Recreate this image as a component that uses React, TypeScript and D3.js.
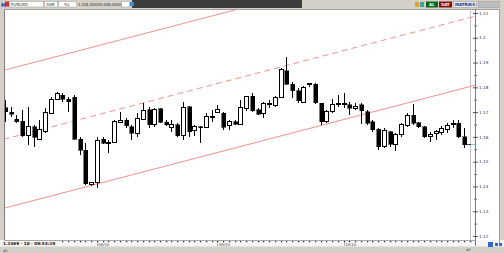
import React from "react";
import * as d3 from "d3";

const opens = [1.1718,1.1699,1.1672,1.1664,1.1604,1.1641,1.1591,1.1621,1.1695,1.1752,
1.1769,1.1752,1.1760,1.1590,1.1547,1.1409,1.1415,1.1591,1.1574,1.1577,
1.1659,1.1668,1.1641,1.1614,1.1672,1.1709,1.1648,1.1713,1.1659,1.1639,
1.1648,1.1604,1.1722,1.1624,1.1641,1.1639,1.1681,1.1698,1.1695,1.1644,
1.1661,1.1652,1.1715,1.1765,1.1709,1.1695,1.1733,1.1725,1.1758,1.1867,
1.1813,1.1786,1.1738,1.1811,1.1813,1.1736,1.1664,1.1702,1.1732,1.1733,
1.1729,1.1715,1.1729,1.1702,1.1661,1.1631,1.1560,1.1621,1.1571,1.1608,
1.1644,1.1688,1.1657,1.1641,1.1601,1.1614,1.1617,1.1631,1.1648,1.1655,
1.1601];
const highs = [1.1749,1.1722,1.1688,1.1709,1.1722,1.1648,1.1668,1.1715,1.1762,1.1780,
1.1776,1.1762,1.1769,1.1601,1.1574,1.1419,1.1598,1.1598,1.1587,1.1668,
1.1702,1.1675,1.1648,1.1695,1.1736,1.1722,1.1715,1.1715,1.1668,1.1668,
1.1655,1.1742,1.1725,1.1648,1.1644,1.1695,1.1709,1.1729,1.1702,1.1668,
1.1668,1.1749,1.1765,1.1776,1.1715,1.1742,1.1749,1.1765,1.1877,1.1924,
1.1823,1.1796,1.1805,1.1819,1.1819,1.1738,1.1709,1.1752,1.1769,1.1778,
1.1742,1.1736,1.1736,1.1709,1.1668,1.1635,1.1635,1.1625,1.1614,1.1655,
1.1695,1.1733,1.1661,1.1644,1.1621,1.1628,1.1644,1.1655,1.1668,1.1668,
1.1635];
const lows = [1.1661,1.1681,1.1655,1.1598,1.1567,1.1558,1.1587,1.1617,1.1692,1.1749,
1.1742,1.1702,1.1587,1.1527,1.1406,1.1402,1.1393,1.1571,1.1534,1.1574,
1.1655,1.1635,1.1587,1.1601,1.1668,1.1635,1.1641,1.1655,1.1644,1.1621,
1.1601,1.1587,1.1598,1.1604,1.1574,1.1635,1.1661,1.1695,1.1628,1.1628,
1.1648,1.1648,1.1706,1.1702,1.1688,1.1675,1.1715,1.1719,1.1756,1.1809,
1.1756,1.1738,1.1736,1.1803,1.1733,1.1648,1.1657,1.1695,1.1722,1.1715,
1.1688,1.1709,1.1652,1.1648,1.1621,1.1547,1.1554,1.1560,1.1544,1.1601,
1.1641,1.1648,1.1635,1.1594,1.1581,1.1587,1.1608,1.1614,1.1635,1.1594,
1.1554];
const closes = [1.1702,1.1691,1.1661,1.1604,1.1641,1.1598,1.1628,1.1698,1.1752,1.1776,
1.1752,1.1742,1.1590,1.1547,1.1410,1.1417,1.1587,1.1574,1.1577,1.1661,
1.1668,1.1644,1.1614,1.1675,1.1706,1.1648,1.1709,1.1659,1.1648,1.1648,
1.1604,1.1719,1.1621,1.1641,1.1637,1.1681,1.1684,1.1709,1.1639,1.1661,
1.1652,1.1719,1.1762,1.1706,1.1692,1.1736,1.1736,1.1760,1.1870,1.1813,
1.1786,1.1746,1.1800,1.1816,1.1738,1.1661,1.1702,1.1729,1.1736,1.1736,
1.1715,1.1722,1.1706,1.1655,1.1628,1.1560,1.1624,1.1571,1.1608,1.1648,
1.1688,1.1655,1.1641,1.1601,1.1610,1.1621,1.1635,1.1644,1.1655,1.1601,
1.1569];

const priceTicks = [1.12,1.13,1.14,1.15,1.16,1.17,1.18,1.19,1.2,1.21];
const dateLabels = ["08/10", "09/10", "10/10"];
const dateLabelIdx = [16, 37, 59];
const channelIdx = [0, 80];
const channelLow = [1.1313, 1.1797];
const channelWidth = 0.0557;
const lastPrice = 1.1569;
const statusText = "1.1569 - 10 - 09:53:29";

const FONT = "DejaVu Sans";

export default function App() {
  const x = d3.scaleLinear().domain([0, 80]).range([5, 464.2]);
  const y = d3.scaleLinear().domain([1.12, 1.21]).range([236, 13]);
  const slope = (channelLow[1] - channelLow[0]) / (channelIdx[1] - channelIdx[0]);
  const lineAt = (off: number) => {
    const i0 = -2, i1 = 84;
    return d3.line()([
      [x(i0), y(channelLow[0] + slope * (i0 - channelIdx[0]) + off)],
      [x(i1), y(channelLow[0] + slope * (i1 - channelIdx[0]) + off)],
    ]);
  };
  const minor = d3.range(1.115, 1.215, 0.01).filter(v => y(v) > 9 && y(v) < 240);
  const candles = opens.map((o, i) => ({ o, h: highs[i], l: lows[i], c: closes[i], i }));
  const dots = d3.range(0, 82).map(i => x(i)).filter(v => v > 58 && v < 470);
  const lineColor = "#f29191";

  return (
    <svg width={504} height={253} style={{ position: "absolute", left: 0, top: 0, fontFamily: FONT }}>
      <rect x={0} y={0} width={504} height={253} fill="#d4d0c8" />
      {/* toolbar */}
      <rect x={132} y={0} width={170} height={8} fill="#3c3c3c" />
      <text x={1} y={6.5} fontSize={6} fontWeight="bold" fill="#1a3fa8">H</text>
      <rect x={5} y={1.5} width={4} height={5} fill="#c83232" />
      <rect x={9.5} y={1.5} width={34} height={5.5} fill="#fff" stroke="#9a9a9a" strokeWidth={0.5} />
      <text x={11} y={5.8} fontSize={4} fill="#333">EURUSD</text>
      <rect x={44.5} y={1.5} width={13} height={5.5} fill="#fff" stroke="#9a9a9a" strokeWidth={0.5} />
      <text x={46} y={5.8} fontSize={4} fill="#333">30M</text>
      <rect x={58.5} y={1.5} width={18} height={5.5} fill="#fff" stroke="#9a9a9a" strokeWidth={0.5} />
      <text x={64} y={5.8} fontSize={4} fill="#333">%L</text>
      <text x={78} y={5.8} fontSize={4} fill="#333">1.20</text>
      <text x={86} y={5.8} fontSize={4} fill="#333">1.0000</text>
      <text x={100} y={5.8} fontSize={4} fill="#333">0.00</text>
      <text x={108} y={5.8} fontSize={4} fill="#333">0.0000</text>
      <rect x={121.5} y={1.5} width={8} height={5.5} fill="#fff" stroke="#9a9a9a" strokeWidth={0.5} />
      <rect x={130} y={2} width={4} height={4} fill="#3a8ad6" />
      <rect x={415} y={2} width={4} height={5} fill="#e0a030" />
      <rect x={420} y={2} width={4} height={5} fill="#3aa0a0" />
      <rect x={426} y={1.5} width={12} height={6} fill="#0b6a1a" />
      <text x={429} y={6} fontSize={4} fill="#fff" fontWeight="bold">AL</text>
      <rect x={439} y={1.5} width={13} height={6} fill="#8a1010" />
      <text x={441} y={6} fontSize={4} fill="#fff" fontWeight="bold">SAT</text>
      <rect x={453.5} y={1.5} width={23} height={6} fill="#e6e6e6" stroke="#9a9a9a" strokeWidth={0.5} />
      <text x={455} y={6} fontSize={4} fill="#1f2f8f" fontWeight="bold">MATRIKS</text>
      <rect x={478.5} y={1.5} width={21} height={6} fill="#bdbdbd" stroke="#9a9a9a" strokeWidth={0.5} />

      {/* chart panel */}
      <rect x={4} y={9} width={496} height={231} fill="#fff" />
      <rect x={0} y={240} width={504} height={6.5} fill="#f6f6f6" />
      <line x1={4.5} y1={9} x2={4.5} y2={240} stroke="#808080" />
      <line x1={4} y1={9.5} x2={500} y2={9.5} stroke="#a0a0a0" />
      <line x1={4} y1={240.5} x2={475} y2={240.5} stroke="#a8a8a8" />
      <line x1={470.5} y1={9} x2={470.5} y2={240} stroke="#c4c4c4" />
      <line x1={475.5} y1={9} x2={475.5} y2={246} stroke="#7a7a7a" />
      <line x1={499.5} y1={9} x2={499.5} y2={246} stroke="#a0a0a0" />

      <defs>
        <clipPath id="plot">
          <rect x={5} y={10} width={470} height={230} />
        </clipPath>
      </defs>
      <g clipPath="url(#plot)">
        <path d={lineAt(0) || ""} stroke={lineColor} strokeWidth={1} fill="none" />
        <path d={lineAt(channelWidth) || ""} stroke={lineColor} strokeWidth={1} fill="none" />
        <path d={lineAt(channelWidth / 2) || ""} stroke={lineColor} strokeWidth={1} fill="none" strokeDasharray="6,4" />
        {candles.map(d => {
          const cx = Math.round(x(d.i)) + 0.5;
          const top = y(Math.max(d.o, d.c));
          const bot = y(Math.min(d.o, d.c));
          const up = d.c >= d.o;
          const h = Math.max(1, bot - top);
          return (
            <g key={d.i} shapeRendering="crispEdges">
              <line x1={cx} x2={cx} y1={y(d.h)} y2={y(d.l)} stroke="#000" strokeWidth={1} />
              <rect x={cx - 2} y={top} width={4} height={h}
                fill={up ? "#fff" : "#000"} stroke="#000" strokeWidth={up ? 1 : 0.5} />
            </g>
          );
        })}
      </g>
      {/* current price marker */}
      <line x1={467} x2={471} y1={y(lastPrice)} y2={y(lastPrice)} stroke="#333" />
      <line x1={471} x2={475} y1={y(lastPrice)} y2={y(lastPrice)} stroke="#7fd6d6" />

      {/* price axis */}
      {priceTicks.map(v => (
        <g key={v}>
          <line x1={473} x2={478} y1={y(v) + 0.5} y2={y(v) + 0.5} stroke="#555" />
          <text x={479} y={y(v) + 1.7} fontSize={4.2} fill="#333">{String(+v.toFixed(2))}</text>
        </g>
      ))}
      {minor.map(v => (
        <line key={v} x1={474} x2={477} y1={y(v) + 0.5} y2={y(v) + 0.5} stroke="#777" />
      ))}

      {/* time axis */}
      {dots.map((v, i) => (
        <rect key={i} x={Math.round(v)} y={241} width={1.2} height={1.2} fill="#222" />
      ))}
      {dateLabels.map((t, i) => (
        <g key={t}>
          <line x1={Math.round(x(dateLabelIdx[i])) + 0.5} x2={Math.round(x(dateLabelIdx[i])) + 0.5} y1={242} y2={246} stroke="#888" strokeWidth={0.6} />
          <text x={x(dateLabelIdx[i]) + 1.5} y={245.5} fontSize={3.8} fill="#444">{t}</text>
        </g>
      ))}
      <text x={3} y={245.3} fontSize={4.2} fontWeight="bold" fill="#111">{statusText}</text>
      <text x={3} y={251.5} fontSize={3.8} fill="#444">ali</text>
      <text x={466} y={251} fontSize={3.8} fill="#444">ali</text>
      <rect x={488} y={242} width={5} height={5} fill="#3366cc" />
      <rect x={495} y={243} width={3} height={3} fill="#3366cc" />
      <rect x={499} y={243} width={3} height={3} fill="#3366cc" />
    </svg>
  );
}
